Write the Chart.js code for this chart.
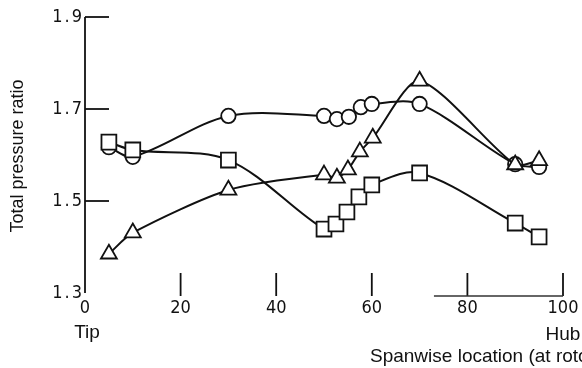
<!DOCTYPE html>
<html>
<head>
<meta charset="utf-8">
<script src="https://cdn.jsdelivr.net/npm/chart.js@4.4.0/dist/chart.umd.min.js"></script>
<style>
  html, body { margin: 0; padding: 0; background: #fff; }
</style>
</head>
<body>
<canvas id="chart" width="582" height="368"></canvas>
<script>
// spanwise location (percent) and total pressure ratio, one pair of arrays per symbol
const circleX = [5, 10, 30, 50, 52.7, 55.2, 57.7, 60, 70, 90, 95];
const circleY = [1.617, 1.596, 1.685, 1.685, 1.678, 1.683, 1.704, 1.711, 1.711, 1.580, 1.574];

const squareX = [5, 10, 30, 50, 52.5, 54.8, 57.3, 60, 70, 90, 95];
const squareY = [1.628, 1.611, 1.589, 1.439, 1.450, 1.476, 1.509, 1.535, 1.561, 1.452, 1.422];

const triangleX = [5, 10, 30, 50, 52.7, 55, 57.5, 60.2, 70, 90, 95];
const triangleY = [1.385, 1.431, 1.524, 1.557, 1.550, 1.568, 1.607, 1.637, 1.761, 1.579, 1.588];

// axis ticks
const xTickValues = [0, 20, 40, 60, 80, 100];
const xTickLabels = ['0', '20', '40', '60', '80', '100'];
const yTickValues = [1.3, 1.5, 1.7, 1.9];
const yTickLabels = ['1.3', '1.5', '1.7', '1.9'];

const INK = '#111';
const DIGIT_FONT = "18px 'Liberation Sans Narrow', 'DejaVu Sans Condensed', sans-serif";
const LABEL_FONT = "19px 'Liberation Sans', Arial, sans-serif";
const TITLE_FONT = "18px 'Liberation Sans', Arial, sans-serif";

function toPoints(xs, ys) {
    return xs.map((x, i) => ({ x: x, y: ys[i] }));
}

function series(xs, ys, style, radius, tension) {
    return {
        data: toPoints(xs, ys),
        borderColor: INK,
        borderWidth: 2,
        tension: tension,
        pointStyle: style,
        pointRadius: radius,
        pointBackgroundColor: '#fff',
        pointBorderColor: INK,
        pointBorderWidth: 1.8,
        clip: false
    };
}

// axes are drawn by hand: inward ticks, partial baseline, end labels
const axisPlugin = {
    id: 'axisPlugin',
    afterDraw(chart) {
        const ctx = chart.ctx;
        const xs = chart.scales.x;
        const ys = chart.scales.y;
        const x0 = xs.getPixelForValue(0);
        const yBottom = ys.getPixelForValue(1.3);
        const yTop = ys.getPixelForValue(1.9);

        ctx.save();
        ctx.strokeStyle = INK;
        ctx.lineWidth = 1.8;
        ctx.lineCap = 'butt';

        // vertical axis
        ctx.beginPath();
        ctx.moveTo(x0, yTop);
        ctx.lineTo(x0, yBottom);
        ctx.stroke();

        // y ticks pointing inward
        yTickValues.forEach(v => {
            if (v === 1.3) return;
            const py = ys.getPixelForValue(v);
            ctx.beginPath();
            ctx.moveTo(x0, py);
            ctx.lineTo(x0 + 24, py);
            ctx.stroke();
        });

        // x ticks standing above the bottom
        xTickValues.forEach(v => {
            if (v === 0) return;
            const px = xs.getPixelForValue(v);
            ctx.beginPath();
            ctx.moveTo(px, yBottom - 20);
            ctx.lineTo(px, yBottom + 3);
            ctx.stroke();
        });

        // short baseline at the hub end
        ctx.strokeStyle = '#333';
        ctx.lineWidth = 1.4;
        ctx.beginPath();
        ctx.moveTo(xs.getPixelForValue(73), yBottom + 3);
        ctx.lineTo(xs.getPixelForValue(100), yBottom + 3);
        ctx.stroke();

        // tick labels
        ctx.fillStyle = INK;
        ctx.font = DIGIT_FONT;
        ctx.textBaseline = 'middle';
        ctx.textAlign = 'right';
        ctx.letterSpacing = '2px';
        yTickValues.forEach((v, i) => {
            ctx.fillText(yTickLabels[i], x0 - 1, ys.getPixelForValue(v));
        });
        ctx.letterSpacing = '0px';
        ctx.textAlign = 'center';
        xTickValues.forEach((v, i) => {
            ctx.fillText(xTickLabels[i], xs.getPixelForValue(v), yBottom + 15);
        });

        // end labels and axis titles
        ctx.font = LABEL_FONT;
        ctx.fillText('Tip', xs.getPixelForValue(0) + 2, yBottom + 40);
        ctx.fillText('Hub', xs.getPixelForValue(100), yBottom + 42);
        ctx.textAlign = 'left';
        ctx.fillText('Spanwise location (at rotor exit), percent', 370, yBottom + 64);

        ctx.font = TITLE_FONT;
        ctx.translate(18, 156);
        ctx.rotate(-Math.PI / 2);
        ctx.textAlign = 'center';
        ctx.fillText('Total pressure ratio', 0, 0);
        ctx.restore();
    }
};

new Chart(document.getElementById('chart'), {
    type: 'line',
    data: {
        datasets: [
            series(triangleX, triangleY, 'triangle', 9.2, 0.25),
            series(squareX, squareY, 'rect', 10.5, 0.32),
            series(circleX, circleY, 'circle', 7.2, 0.32)
        ]
    },
    options: {
        responsive: false,
        animation: false,
        devicePixelRatio: 1,
        layout: { padding: { left: 85, right: 19, top: 17, bottom: 75 } },
        scales: {
            x: { type: 'linear', min: 0, max: 100, display: false },
            y: { type: 'linear', min: 1.3, max: 1.9, display: false }
        },
        plugins: {
            legend: { display: false },
            tooltip: { enabled: false }
        }
    },
    plugins: [axisPlugin]
});
</script>
</body>
</html>
